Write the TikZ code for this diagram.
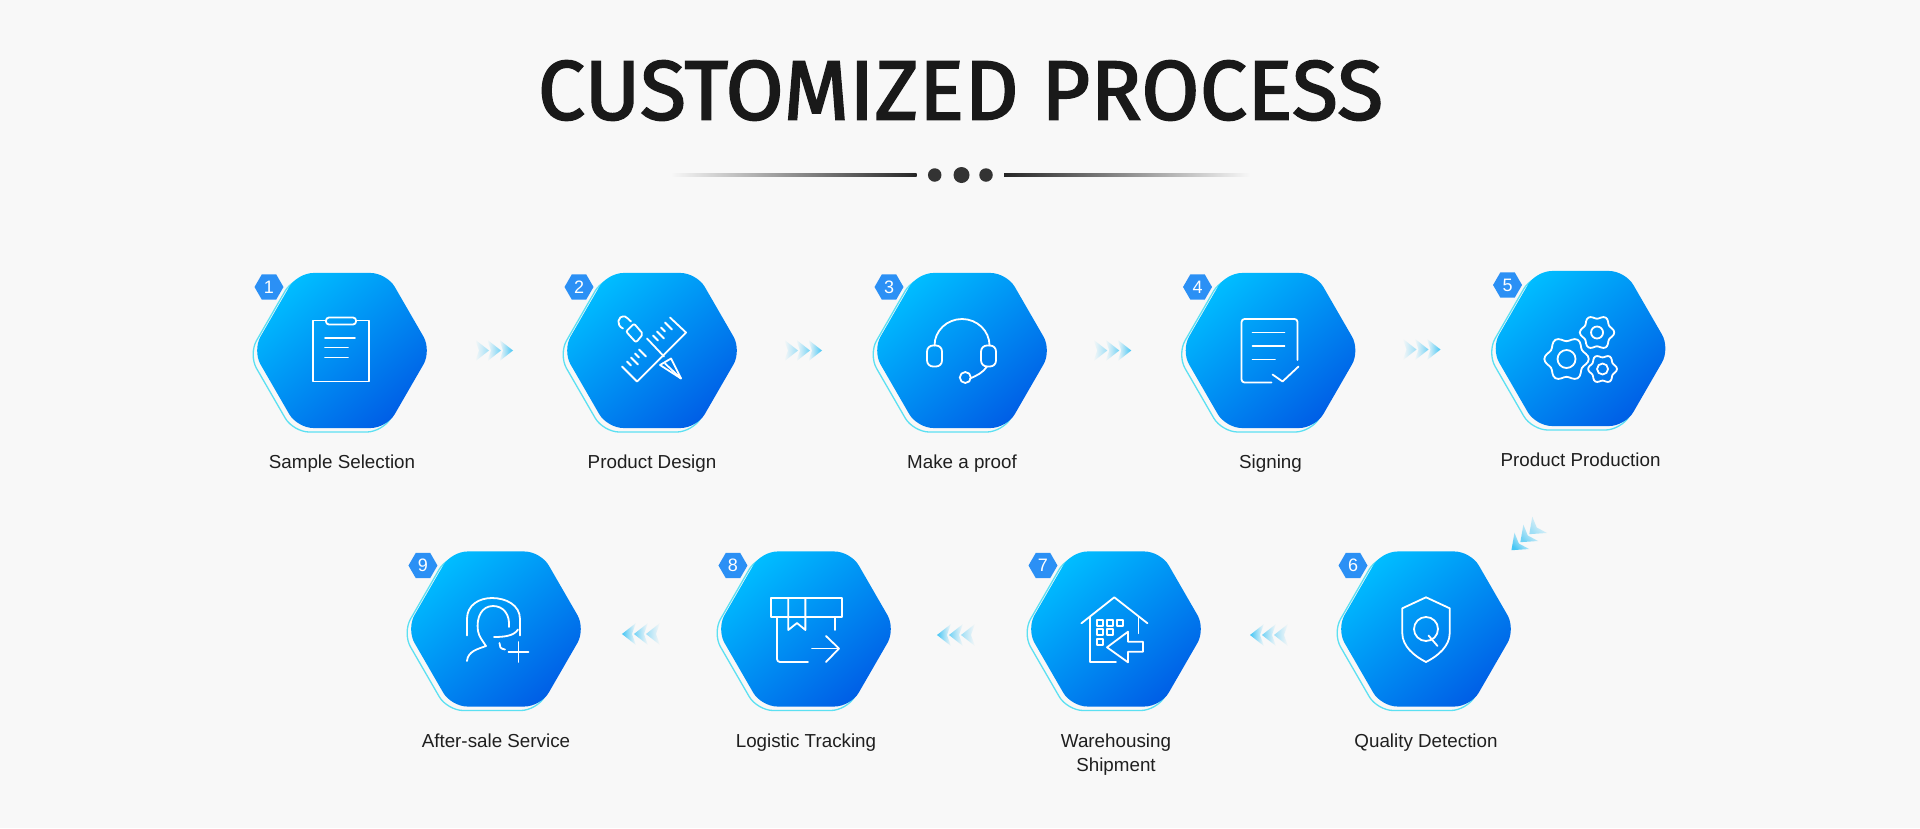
\documentclass[tikz,border=0pt]{standalone}
\usepackage{fontspec}
\setmainfont{Liberation Sans}
\newfontfamily\titlefont[FakeBold=2.2, LetterSpace=0.6]{Fira Sans}
\usetikzlibrary{shapes.geometric, positioning, calc, shadows, fadings}

\definecolor{pagebg}{HTML}{F8F8F8}
\definecolor{hexcyan}{HTML}{00BCFF}
\definecolor{hexblue}{HTML}{005FE6}
\definecolor{hexline}{HTML}{5CE0F2}
\definecolor{badgeblue}{HTML}{2B90F5}
\definecolor{chevcyan}{HTML}{45C6F5}
\definecolor{ruledark}{HTML}{262626}
\definecolor{labeltext}{HTML}{1F1F1F}

\tikzfading[name=fade tail, left color=transparent!100, right color=transparent!0]

\newcommand{\gearicon}[4]{
    \draw plot[smooth cycle, samples=48, domain=0:352.5]
        ({#1+#3*(1+.11*cos(6*\x))*cos(\x)},{#2+#3*(1+.11*cos(6*\x))*sin(\x)});
    \draw (#1,#2) circle (#4);
}

\begin{document}
\begin{tikzpicture}[
    x=1pt, y=-1pt,
    node distance=131pt,
    hexcell/.style={
        regular polygon,
        regular polygon sides=6,
        minimum size=179pt,
        inner sep=0pt,
        outer sep=0pt,
        rounded corners=16pt,
        general shadow={shadow xshift=-4pt, shadow yshift=-4pt, draw=hexline, fill=pagebg, line width=1.3pt},
        top color=hexcyan,
        bottom color=hexblue,
        shading angle=40
    },
    badge/.style={
        regular polygon,
        regular polygon sides=6,
        minimum size=29pt,
        inner sep=0pt,
        fill=badgeblue,
        text=white,
        font=\fontsize{18}{18}\selectfont,
        shift={(-73,-63.5)}
    },
    steplabel/.style={
        inner sep=0pt,
        align=center,
        text=labeltext,
        font=\fontsize{18.8}{24}\selectfont
    },
    dotmark/.style={
        circle,
        inner sep=0pt,
        fill=black!80
    },
    rulemark/.style={
        rectangle,
        inner sep=0pt,
        minimum width=246pt,
        minimum height=2.6pt
    },
    iconline/.style={
        draw=white,
        line width=1.8pt,
        line cap=round,
        line join=round
    },
    chevrons/.pic={
        \foreach \tipx/\tipop in {-5/.5, 7/.75, 19/1} {
            \fill[chevcyan, rotate=#1, opacity=\tipop, path fading=fade tail, fading angle=#1]
                (\tipx-14,-11) -- (\tipx,0) -- (\tipx-14,11) -- (\tipx-10,0) -- cycle;
        }
    }
]

\fill[pagebg] (0,0) rectangle (1920,828);
\useasboundingbox (0,0) rectangle (1920,828);

% --- title ---
\node (title) [inner sep=0pt, text=black!90, font=\titlefont\fontsize{84}{84}\selectfont] at (960.5,90.5) {CUSTOMIZED PROCESS};
\node (dotmid) [dotmark, minimum size=16pt] at (961.5,175) {};
\node (dotleft) [dotmark, minimum size=13.5pt] at (934.7,175) {};
\node (dotright) [dotmark, minimum size=13.5pt] at (986,175) {};
\node (ruleleft) [rulemark, left color=pagebg, right color=ruledark, left=11pt of dotleft] {};
\node (ruleright) [rulemark, left color=ruledark, right color=pagebg, right=11pt of dotright] {};

% --- top row ---
\node (sample) [hexcell] at (342,350.5) {};
\node (design) [hexcell, right=of sample] {};
\node (proof) [hexcell, right=of design] {};
\node (signing) [hexcell, right=of proof, xshift=-1.5pt] {};
\node (production) [hexcell, right=of signing, yshift=2pt] {};

% --- bottom row ---
\node (detection) [hexcell] at (1426,629) {};
\node (shipment) [hexcell, left=of detection] {};
\node (tracking) [hexcell, left=of shipment] {};
\node (service) [hexcell, left=of tracking] {};

% --- badges ---
\node (badgeone) [badge] at (sample.center) {1};
\node (badgetwo) [badge] at (design.center) {2};
\node (badgethree) [badge] at (proof.center) {3};
\node (badgefour) [badge] at (signing.center) {4};
\node (badgefive) [badge] at (production.center) {5};
\node (badgesix) [badge] at (detection.center) {6};
\node (badgeseven) [badge] at (shipment.center) {7};
\node (badgeeight) [badge] at (tracking.center) {8};
\node (badgenine) [badge] at (service.center) {9};

% --- labels ---
\node (labelsample) [steplabel, below=27pt of sample] {Sample Selection};
\node (labeldesign) [steplabel, below=27pt of design] {Product Design};
\node (labelproof) [steplabel, below=27pt of proof] {Make a proof};
\node (labelsigning) [steplabel, below=27pt of signing] {Signing};
\node (labelproduction) [steplabel, below=27pt of production] {Product Production};
\node (labeldetection) [steplabel, below=27pt of detection] {Quality Detection};
\node (labelshipment) [steplabel, below=27pt of shipment] {Warehousing\\Shipment};
\node (labeltracking) [steplabel, below=27pt of tracking] {Logistic Tracking};
\node (labelservice) [steplabel, below=27pt of service] {After-sale Service};

% --- chevrons ---
\pic at ($(sample.center)!0.5!(design.center)+(-3,0)$) {chevrons=0};
\pic at ($(design.center)!0.5!(proof.center)+(-4,0)$) {chevrons=0};
\pic at ($(proof.center)!0.5!(signing.center)+(-4,0)$) {chevrons=0};
\pic at ($(signing.center)!0.5!(production.center)+(-4,0)$) {chevrons=0};
\pic at ($(production.center)+(-55,189)$) {chevrons=222};
\pic at ($(detection.center)!0.5!(shipment.center)+(-2,6)$) {chevrons=180};
\pic at ($(shipment.center)!0.5!(tracking.center)+(-5,6)$) {chevrons=180};
\pic at ($(tracking.center)!0.5!(service.center)+(-10,5)$) {chevrons=180};

% --- icons ---
\begin{scope}[shift={(sample.center)}, iconline]
    \draw (-16,-30) -- (-28.7,-30) -- (-28.7,31) -- (27,31) -- (27,-30) -- (14,-30);
    \draw[rounded corners=3pt] (-16,-33) rectangle (14,-26);
    \draw (-17,-12.5) -- (13,-12.5);
    \draw (-17,-3) -- (6,-3);
    \draw (-17,7) -- (6,7);
\end{scope}

\begin{scope}[shift={(design.center)}, iconline]
    \draw (18,-33) -- (34,-18) -- (-15,31) -- (-30,16);
    \foreach \tickx/\ticky/\ticklen in {-25/11/4, -21/7/7, -17/3/4, -13/-1/7, 1/-15/5, 5/-19/7, 9/-23/4, 13/-28/7} {
        \draw (\tickx,\ticky) -- ++(\ticklen,\ticklen);
    }
    \draw (-29,-22) .. controls (-36,-25) and (-35,-35) .. (-27,-34) .. controls (-25,-33) and (-23,-31) .. (-21,-29);
    \draw[rounded corners=2pt] (-26,-19) -- (-18,-27) -- (-9,-16.5) -- (-16,-8) -- cycle;
    \draw (-5,-12) -- (12,6);
    \draw (8,14.5) -- (19,8) -- (29,28) -- cycle;
    \draw (13,13) -- (29,28);
\end{scope}

\begin{scope}[shift={(proof.center)}, iconline]
    \draw (-27.5,-5) arc[start angle=180, end angle=360, x radius=27.5, y radius=26.5];
    \draw[rounded corners=6pt] (-35,-5) rectangle (-20,16);
    \draw[rounded corners=6pt] (19,-5) rectangle (34,16);
    \draw (25,16) .. controls (21,22) and (15,25) .. (8,28);
    \draw (3.3,27) circle (5.5);
\end{scope}

\begin{scope}[shift={(signing.center)}, iconline]
    \draw[rounded corners=3pt] (27,9.5) -- (27,-31.5) -- (-29,-31.5) -- (-29,32) -- (1,32);
    \draw (-18,-18) -- (14,-18);
    \draw (-18,-4.5) -- (14,-4.5);
    \draw (-18,9) -- (4.5,9);
    \draw (2,24) -- (12,31) -- (28,16);
\end{scope}

\begin{scope}[shift={(production.center)}, iconline]
    \gearicon{-14}{10.5}{20}{9}
    \gearicon{16.5}{-16}{15.5}{6}
    \gearicon{22}{20.5}{13}{5.5}
\end{scope}

\begin{scope}[shift={(detection.center)}, iconline]
    \draw (0,-31.7) -- (23.7,-20.7) -- (23.7,4.3) .. controls (23.7,17) and (12,27) .. (0,33) .. controls (-12,27) and (-23.7,17) .. (-23.7,4.3) -- (-23.7,-20.7) -- cycle;
    \draw (0,0) circle (12);
    \draw (2.5,6.5) -- (11.5,17);
\end{scope}

\begin{scope}[shift={(shipment.center)}, iconline]
    \draw (-34.6,-5.7) -- (-1.7,-31.7) -- (31.5,-5.7);
    \draw (-26,-11.7) -- (-26,33.3) -- (0,33.3);
    \draw (22.5,-11.7) -- (22.5,4.3);
    \draw (-9,18.3) -- (12,2.7) -- (12,12.7) -- (27,12.7) -- (27,22.7) -- (12,22.7) -- (12,33.3) -- cycle;
    \foreach \winx/\winy in {-16/-6.3, -6.3/-6.3, 3.6/-6.3, -16/3.3, -6.3/3.3, -16/13.3} {
        \draw (\winx-3,\winy-3) rectangle (\winx+3,\winy+3);
    }
\end{scope}

\begin{scope}[shift={(tracking.center)}, iconline]
    \draw (-35,-31) rectangle (36,-12);
    \draw (-17.7,-31) -- (-17.7,1) -- (-9,-6) -- (-0.6,1) -- (-0.6,-31);
    \draw[rounded corners=3pt] (-29,-12) -- (-29,33) -- (2,33);
    \draw (29,-12) -- (29,1);
    \draw (6,19.5) -- (33,19.5);
    \draw (20,7) -- (33,19.5) -- (20,33);
\end{scope}

\begin{scope}[shift={(service.center)}, iconline]
    \draw (-29,6.5) -- (-29,-10) .. controls (-29,-24) and (-17,-31) .. (-4,-31) .. controls (10,-31) and (24,-24) .. (24,-10) -- (24,6.5);
    \draw (13,-2) .. controls (14,-14) and (8,-23) .. (-3,-23) .. controls (-14,-23) and (-20,-12) .. (-18,2) .. controls (-17,8) and (-13,12) .. (-10,17) .. controls (-18,20) and (-28,22) .. (-29,32);
    \draw (-2,8) .. controls (8,8) and (18,7) .. (22,0.5);
    \draw (3.5,14) .. controls (3.5,17) and (4,20) .. (9,20.5);
    \draw (12.5,23) -- (32.5,23);
    \draw (22.5,13) -- (22.5,33);
\end{scope}

\end{tikzpicture}
\end{document}
